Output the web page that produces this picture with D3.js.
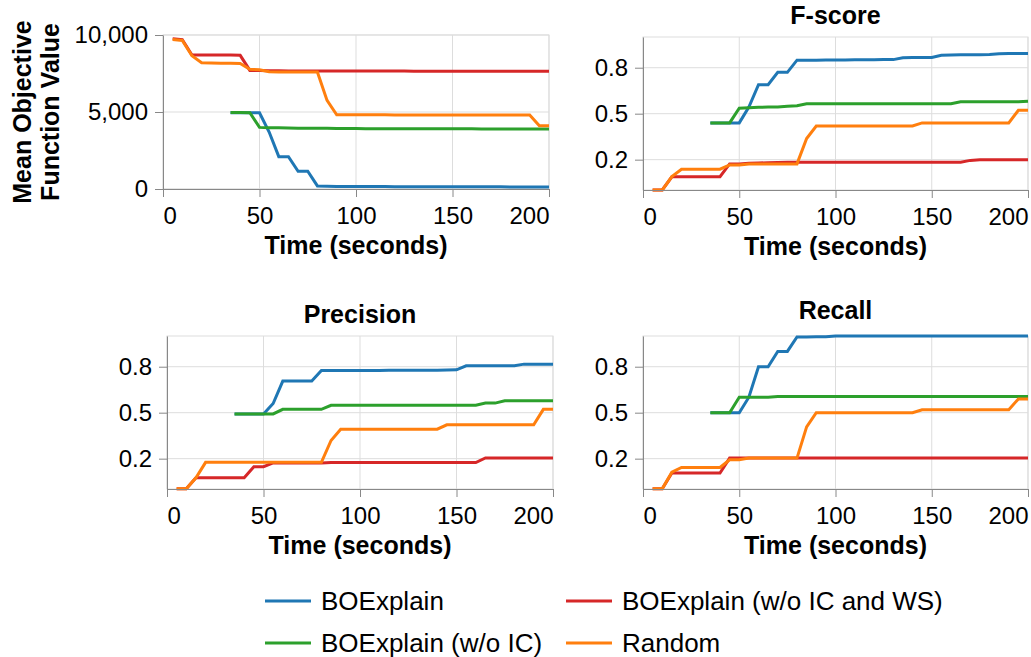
<!DOCTYPE html>
<html>
<head>
<meta charset="utf-8">
<script src="https://cdn.jsdelivr.net/npm/d3@7"></script>
<style>
  html, body { margin: 0; padding: 0; background: #fff; }
  svg { display: block; font-family: "Liberation Sans", Arial, Helvetica, sans-serif; }
</style>
</head>
<body>
<div id="chart"></div>
<script>
// time steps (seconds)
const times = [5, 10, 15, 20, 25, 30, 35, 40, 45, 50, 55, 60, 65, 70, 75, 80, 85, 90, 95, 100,
  105, 110, 115, 120, 125, 130, 135, 140, 145, 150, 155, 160, 165, 170, 175, 180, 185, 190, 195, 200];

const seriesNames = ['BOExplain', 'BOExplain (w/o IC and WS)', 'BOExplain (w/o IC)', 'Random'];
const seriesColors = ['#1f77b4', '#d62728', '#2ca02c', '#ff7f0e'];

const N = null;

// Mean objective function value
const objBlue = [N, N, N, N, N, N, 4950, 4950, 4950, 4950, 3700, 2100, 2100, 1150, 1150, 200,
  180, 170, 165, 160, 160, 155, 155, 150, 150, 150, 150, 150, 145, 145, 145, 140, 140, 140, 140, 135, 135, 135, 130, 130];
const objRed = [9750, 9700, 8700, 8700, 8700, 8700, 8700, 8680, 7700, 7690,
  7680, 7680, 7670, 7670, 7670, 7660, 7660, 7660, 7660, 7660, 7660, 7660, 7660, 7660, 7660,
  7650, 7650, 7650, 7650, 7650, 7650, 7650, 7650, 7650, 7650, 7650, 7650, 7650, 7650, 7650];
const objGreen = [N, N, N, N, N, N, 4970, 4960, 4950, 4000,
  3980, 3970, 3960, 3950, 3950, 3940, 3940, 3930, 3930, 3930, 3920, 3920, 3920, 3920, 3920,
  3910, 3910, 3910, 3910, 3910, 3910, 3910, 3900, 3900, 3900, 3900, 3900, 3900, 3900, 3900];
const objOrange = [9700, 9650, 8650, 8200, 8180, 8170, 8160, 8150, 7780, 7740, 7620, 7600, 7600, 7600, 7600, 7600,
  5750, 4820, 4820, 4820, 4820, 4820, 4820, 4810, 4810, 4810, 4810, 4810, 4810, 4810, 4810, 4810, 4810, 4810,
  4800, 4800, 4800, 4800, 4100, 4100];

// F-score
const fBlue = [N, N, N, N, N, N, 0.45, 0.45, 0.45, 0.45, 0.536, 0.658, 0.658, 0.725, 0.725, 0.791,
  0.791, 0.791, 0.792, 0.792, 0.792, 0.793, 0.793, 0.793, 0.794, 0.794,
  0.804, 0.805, 0.805, 0.806, 0.818, 0.819, 0.821, 0.821, 0.821, 0.822, 0.826, 0.827, 0.827, 0.827];
const fRed = [0.085, 0.085, 0.157, 0.157, 0.157, 0.157, 0.157, 0.157, 0.227, 0.227, 0.23, 0.232, 0.233, 0.234, 0.236,
  0.236, 0.236, 0.236, 0.236, 0.236, 0.236, 0.236, 0.236, 0.236, 0.236, 0.236, 0.236, 0.236, 0.236, 0.236, 0.236, 0.236, 0.236,
  0.246, 0.25, 0.25, 0.25, 0.25, 0.25, 0.25];
const fGreen = [N, N, N, N, N, N, 0.45, 0.45, 0.45, 0.53, 0.532, 0.535, 0.536, 0.536, 0.54, 0.543,
  0.554, 0.554, 0.554, 0.554, 0.554, 0.554, 0.554, 0.554, 0.554, 0.554, 0.554, 0.554, 0.554, 0.554, 0.554, 0.554,
  0.565, 0.565, 0.565, 0.565, 0.565, 0.565, 0.565, 0.568];
const fOrange = [0.085, 0.085, 0.158, 0.198, 0.198, 0.198, 0.198, 0.198, 0.221, 0.221, 0.227, 0.227, 0.227, 0.227, 0.227, 0.227,
  0.365, 0.433, 0.433, 0.433, 0.433, 0.433, 0.433, 0.433, 0.433, 0.433, 0.433, 0.433,
  0.45, 0.45, 0.45, 0.45, 0.45, 0.45, 0.45, 0.45, 0.45, 0.45, 0.518, 0.518];

// Precision
const pBlue = [N, N, N, N, N, N, 0.493, 0.493, 0.493, 0.493, 0.55, 0.672, 0.672, 0.672, 0.672, 0.73,
  0.73, 0.73, 0.73, 0.73, 0.73, 0.73, 0.731, 0.731, 0.731, 0.731, 0.731, 0.731, 0.732, 0.733,
  0.755, 0.755, 0.755, 0.755, 0.755, 0.755, 0.764, 0.764, 0.764, 0.764];
const pRed = [0.087, 0.087, 0.146, 0.146, 0.146, 0.146, 0.146, 0.146, 0.206, 0.206, 0.227, 0.227, 0.227, 0.227, 0.227, 0.227,
  0.229, 0.229, 0.229, 0.229, 0.229, 0.229, 0.229, 0.229, 0.229, 0.229, 0.229, 0.229, 0.229, 0.229, 0.229, 0.229,
  0.254, 0.254, 0.254, 0.254, 0.254, 0.254, 0.254, 0.254];
const pGreen = [N, N, N, N, N, N, 0.493, 0.493, 0.493, 0.493, 0.493, 0.518, 0.518, 0.518, 0.518, 0.518,
  0.54, 0.54, 0.54, 0.54, 0.54, 0.54, 0.54, 0.54, 0.54, 0.54, 0.54, 0.54, 0.54, 0.54, 0.54, 0.54,
  0.552, 0.552, 0.565, 0.565, 0.565, 0.565, 0.565, 0.565];
const pOrange = [0.087, 0.087, 0.146, 0.23, 0.23, 0.23, 0.23, 0.23, 0.23, 0.23, 0.23, 0.23, 0.23, 0.23, 0.23, 0.23,
  0.349, 0.41, 0.41, 0.41, 0.41, 0.41, 0.41, 0.41, 0.41, 0.41, 0.41, 0.41,
  0.434, 0.434, 0.434, 0.434, 0.434, 0.434, 0.434, 0.434, 0.434, 0.434, 0.518, 0.518];

// Recall
const rBlue = [N, N, N, N, N, N, 0.5, 0.5, 0.5, 0.5, 0.584, 0.75, 0.75, 0.833, 0.833,
  0.912, 0.912, 0.913, 0.913, 0.917, 0.917, 0.917, 0.917, 0.917, 0.917, 0.917, 0.917, 0.917, 0.917, 0.917,
  0.917, 0.917, 0.917, 0.917, 0.917, 0.917, 0.917, 0.917, 0.917, 0.917];
const rRed = [0.086, 0.086, 0.172, 0.172, 0.172, 0.172, 0.172, 0.172, 0.253, 0.253, 0.253, 0.253, 0.253, 0.253, 0.253, 0.253,
  0.253, 0.253, 0.253, 0.253, 0.253, 0.253, 0.253, 0.253, 0.253, 0.253, 0.253, 0.253, 0.253, 0.253, 0.253, 0.253,
  0.253, 0.253, 0.253, 0.253, 0.253, 0.253, 0.253, 0.253];
const rGreen = [N, N, N, N, N, N, 0.5, 0.5, 0.5, 0.584, 0.584, 0.584, 0.584, 0.588, 0.588, 0.588,
  0.588, 0.588, 0.588, 0.588, 0.588, 0.588, 0.588, 0.588, 0.588, 0.588, 0.588, 0.588, 0.588, 0.588, 0.588, 0.588,
  0.588, 0.588, 0.588, 0.588, 0.588, 0.588, 0.588, 0.588];
const rOrange = [0.086, 0.086, 0.176, 0.202, 0.202, 0.202, 0.202, 0.202, 0.244, 0.244, 0.253, 0.253, 0.253, 0.253, 0.253, 0.253,
  0.423, 0.5, 0.5, 0.5, 0.5, 0.5, 0.5, 0.5, 0.5, 0.5, 0.5, 0.5,
  0.516, 0.516, 0.516, 0.516, 0.516, 0.516, 0.516, 0.516, 0.516, 0.516, 0.575, 0.575];

// axis ticks
const xTicks = [0, 50, 100, 150, 200];
const objTicks = [0, 5000, 10000];
const scoreTicks = [0.25, 0.5, 0.75];
const scoreTickLabels = ['0.2', '0.5', '0.8'];

const W = 1031, H = 657;
const FONT_TICK = 24, FONT_TITLE = 25, FONT_LEGEND = 26;

const svg = d3.select('#chart').append('svg')
  .attr('width', W)
  .attr('height', H);

// shared y domain for the three score panels
const scoreDomain = d3.extent([].concat(fBlue, fRed, fGreen, fOrange, pBlue, pRed, pGreen, pOrange,
  rBlue, rRed, rGreen, rOrange).filter(v => v != null));

function drawPanel(cfg) {
  const w = cfg.right - cfg.left;
  const h = cfg.bottom - cfg.top;
  const g = svg.append('g').attr('transform', `translate(${cfg.left},${cfg.top})`);

  const x = d3.scaleLinear().domain([0, 200]).range([0, w]);
  const y = d3.scaleLinear().domain(cfg.yDomain).range([h, 0]);

  // view frame
  g.append('rect')
    .attr('width', w).attr('height', h)
    .attr('fill', 'none').attr('stroke', '#ddd');

  // grid
  g.selectAll('.vgrid').data(xTicks).enter().append('line')
    .attr('x1', d => x(d)).attr('x2', d => x(d))
    .attr('y1', 0).attr('y2', h)
    .attr('stroke', '#ddd');
  g.selectAll('.hgrid').data(cfg.yTicks).enter().append('line')
    .attr('x1', 0).attr('x2', w)
    .attr('y1', d => y(d)).attr('y2', d => y(d))
    .attr('stroke', '#ddd');

  // lines
  const line = d3.line()
    .defined(d => d.v != null)
    .x(d => x(d.t))
    .y(d => y(d.v));
  cfg.series.forEach((vals, i) => {
    g.append('path')
      .datum(times.map((t, j) => ({ t: t, v: vals[j] })))
      .attr('fill', 'none')
      .attr('stroke', seriesColors[i])
      .attr('stroke-width', 3)
      .attr('d', line);
  });

  // x axis
  const xa = g.append('g')
    .attr('transform', `translate(0,${h})`)
    .call(d3.axisBottom(x).tickValues(xTicks).tickSize(8).tickSizeOuter(0).tickPadding(10));
  xa.selectAll('text')
    .style('font-size', FONT_TICK + 'px')
    .attr('fill', '#000')
    .attr('text-anchor', (d, i) => i === 0 ? 'start' : (i === xTicks.length - 1 ? 'end' : 'middle'));

  // y axis
  const ya = g.append('g')
    .call(d3.axisLeft(y).tickValues(cfg.yTicks).tickSize(8).tickSizeOuter(0).tickPadding(7)
      .tickFormat(cfg.yFormat));
  ya.selectAll('text')
    .style('font-size', FONT_TICK + 'px')
    .attr('fill', '#000');

  [xa, ya].forEach(a => {
    a.select('.domain').attr('stroke', '#888');
    a.selectAll('.tick line').attr('stroke', '#888');
    a.attr('font-family', null);
  });

  // axis title
  g.append('text')
    .attr('x', w / 2).attr('y', h + 65)
    .attr('text-anchor', 'middle')
    .style('font-size', FONT_TITLE + 'px')
    .style('font-weight', 'bold')
    .text('Time (seconds)');

  // panel title
  if (cfg.title) {
    g.append('text')
      .attr('x', w / 2).attr('y', -cfg.titleGap)
      .attr('text-anchor', 'middle')
      .style('font-size', FONT_TITLE + 'px')
      .style('font-weight', 'bold')
      .text(cfg.title);
  }
  return g;
}

const fmtComma = d3.format(',');
const fmtScore = d => scoreTickLabels[scoreTicks.indexOf(d)];

drawPanel({
  left: 163, right: 549, top: 35, bottom: 189,
  yDomain: [0, 10000], yTicks: objTicks, yFormat: fmtComma,
  series: [objBlue, objRed, objGreen, objOrange]
});
drawPanel({
  left: 643, right: 1028, top: 37, bottom: 190, title: 'F-score', titleGap: 13,
  yDomain: scoreDomain, yTicks: scoreTicks, yFormat: fmtScore,
  series: [fBlue, fRed, fGreen, fOrange]
});
drawPanel({
  left: 167, right: 553, top: 336, bottom: 489, title: 'Precision', titleGap: 13,
  yDomain: scoreDomain, yTicks: scoreTicks, yFormat: fmtScore,
  series: [pBlue, pRed, pGreen, pOrange]
});
drawPanel({
  left: 643, right: 1028, top: 336, bottom: 489, title: 'Recall', titleGap: 17,
  yDomain: scoreDomain, yTicks: scoreTicks, yFormat: fmtScore,
  series: [rBlue, rRed, rGreen, rOrange]
});

// y title of the first panel (two lines)
['Mean Objective', 'Function Value'].forEach((s, i) => {
  svg.append('text')
    .attr('transform', `translate(${31 + i * 28},112) rotate(-90)`)
    .attr('text-anchor', 'middle')
    .style('font-size', FONT_TITLE + 'px')
    .style('font-weight', 'bold')
    .text(s);
});

// legend: 2 columns x 2 rows
const legendPos = [[265, 601], [566, 601], [265, 643], [566, 643]];
const legend = svg.append('g');
seriesNames.forEach((name, i) => {
  const [lx, ly] = legendPos[i];
  legend.append('line')
    .attr('x1', lx).attr('x2', lx + 46)
    .attr('y1', ly).attr('y2', ly)
    .attr('stroke', seriesColors[i])
    .attr('stroke-width', 3);
  legend.append('text')
    .attr('x', lx + 56).attr('y', ly)
    .attr('dy', '0.35em')
    .style('font-size', FONT_LEGEND + 'px')
    .text(name);
});
</script>
</body>
</html>
